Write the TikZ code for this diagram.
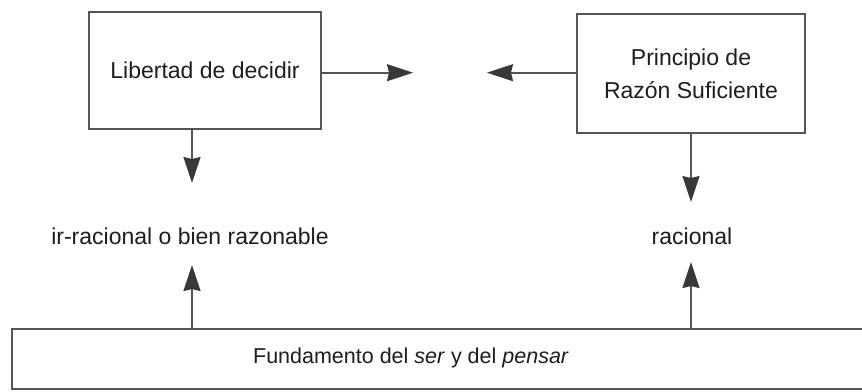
\documentclass[tikz,border=0pt]{standalone}
\usepackage{fontspec}
\setmainfont{Liberation Sans}
\usetikzlibrary{arrows.meta}
\definecolor{ln}{HTML}{555555}
\definecolor{hd}{HTML}{383838}
\definecolor{tx}{HTML}{1E1E1E}
\begin{document}
\begin{tikzpicture}[x=1pt,y=-1pt,
  box/.style={draw=ln,line width=1.7pt,inner sep=0pt,text=tx},
  lbl/.style={inner sep=0pt,text=tx,font=\fontsize{23}{33}\selectfont,align=center},
  arr/.style={draw=ln,line width=1.6pt,-{Stealth[length=26pt,width=17pt,inset=2pt,color=hd]}}]
\useasboundingbox (0,0) rectangle (862,391);
\fill[white] (0,0) rectangle (862,391);
\node[box,minimum width=232pt,minimum height=117pt,lbl] (lib) at (205,70.5) {Libertad de decidir};
\node[box,minimum width=228pt,minimum height=119pt,lbl] (prs) at (691,73.5) {Principio de\\Razón Suficiente};
\node[box,minimum width=854pt,minimum height=60pt] (base) at (439,359) {};
\node[lbl,font=\fontsize{21.5}{26}\selectfont] (fund) at (411,358) {Fundamento del \textit{ser} y del \textit{pensar}};
\node[lbl] (irr) at (190,236) {ir-racional o bien razonable};
\node[lbl] (rac) at (692,236) {racional};
\coordinate (tipR) at (413,72.7);
\coordinate (tipL) at (487,72.7);
\coordinate (dl) at (192,183);
\coordinate (dr) at (691,202);
\coordinate (ul) at (192,265);
\coordinate (ur) at (691,262);
\draw[arr] (lib.east |- tipR) -- (tipR);
\draw[arr] (prs.west |- tipL) -- (tipL);
\draw[arr] (lib.south -| dl) -- (dl);
\draw[arr] (prs.south -| dr) -- (dr);
\draw[arr] (base.north -| ul) -- (ul);
\draw[arr] (base.north -| ur) -- (ur);
\end{tikzpicture}
\end{document}
